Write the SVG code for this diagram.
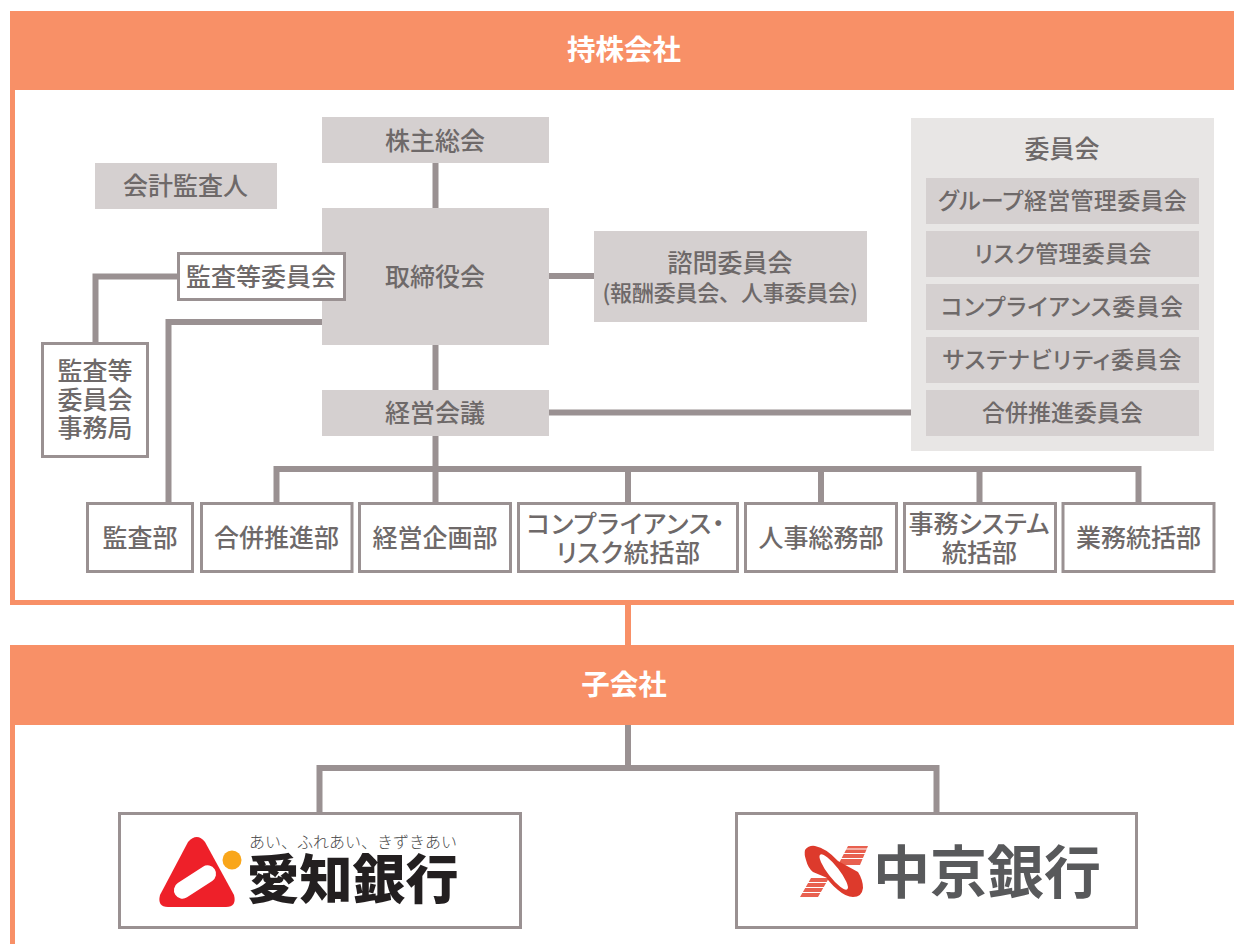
<svg xmlns="http://www.w3.org/2000/svg" width="1234" height="944" viewBox="0 0 1234 944">
<style>
text{font-family:"Noto Sans CJK JP","Noto Sans",sans-serif;font-weight:500;fill:#6e6969;text-anchor:middle;font-size:25px;font-feature-settings:"palt"}
.hd{fill:#fff;font-weight:700;font-size:28.500px}
.g{fill:#d5d0d0}
.b{fill:#fff;stroke:#9a9192;stroke-width:3}
.c{fill:none;stroke:#9a9192;stroke-width:6}
.o{fill:none;stroke:#f89067;stroke-width:5}
.s{font-size:22px;letter-spacing:-.2px;font-feature-settings:normal}
.m{font-size:23px}
</style>
<rect width="1234" height="944" fill="#fff"/>
<g id="frames">
<path class="o" d="M1234 602.500H12.500V90"/>
<path class="o" d="M12.500 725V944"/>
<rect x="10" y="11" width="1224" height="79" fill="#f89067"/>
<rect x="10" y="645" width="1224" height="80" fill="#f89067"/>
</g>
<g id="connectors">
<path class="c" d="M435.500 163V208M435.500 345V390M549 276H594M549 412.500H911M435.500 436V502"/>
<path class="c" d="M178 276.500H95.500V343"/>
<path class="c" d="M322 322H168.500V502"/>
<path class="c" d="M276.500 502V469H1138.500V502M628 469V502M821 469V502M979.500 469V502"/>
<path class="c" d="M628 725V768M319.500 813V768H936.500V813"/>
<path fill="none" stroke="#f89067" stroke-width="6" d="M628 605V645"/>
</g>
<g id="holding"><text class="hd" x="624" y="60">持株会社</text></g>
<g id="sub"><text class="hd" x="624" y="695">子会社</text></g>
<g id="soukai"><rect class="g" x="322" y="117" width="227" height="46"/><text x="435" y="150">株主総会</text></g>
<g id="kansanin"><rect class="g" x="95" y="163" width="182" height="46"/><text x="185.500" y="195">会計監査人</text></g>
<g id="torishimariyaku"><rect class="g" x="322" y="208" width="227" height="137"/><text x="435" y="286">取締役会</text></g>
<g id="kansatou"><rect class="b" x="178.500" y="253.500" width="166" height="46"/><text x="261" y="286">監査等委員会</text></g>
<g id="jimukyoku"><rect class="b" x="42.500" y="343.500" width="105" height="113"/><text x="95" y="380">監査等</text><text x="95" y="409">委員会</text><text x="95" y="437">事務局</text></g>
<g id="shimon"><rect class="g" x="594" y="231" width="273" height="91"/><text x="730" y="272">諮問委員会</text><text x="730" y="301" class="s">(報酬委員会、人事委員会)</text></g>
<g id="keiei"><rect class="g" x="322" y="390" width="227" height="46"/><text x="435" y="422">経営会議</text></g>
<g id="iinkai">
<rect x="911" y="118" width="303" height="333" fill="#e8e6e5"/>
<text x="1062" y="158">委員会</text>
<rect class="g" x="926" y="178" width="273" height="46"/><text class="m" x="1062.500" y="209" style="letter-spacing:.3px">グループ経営管理委員会</text>
<rect class="g" x="926" y="231" width="273" height="46"/><text class="m" x="1063" y="262" style="letter-spacing:.3px">リスク管理委員会</text>
<rect class="g" x="926" y="284" width="273" height="46"/><text class="m" x="1062.500" y="315" style="letter-spacing:.9px">コンプライアンス委員会</text>
<rect class="g" x="926" y="337" width="273" height="46"/><text class="m" x="1062.500" y="368" style="letter-spacing:.8px">サステナビリティ委員会</text>
<rect class="g" x="926" y="390" width="273" height="46"/><text class="m" x="1062.500" y="421">合併推進委員会</text>
</g>
<g id="d1"><rect class="b" x="87.500" y="503.500" width="105" height="68"/><text x="140" y="547">監査部</text></g>
<g id="d2"><rect class="b" x="201.500" y="503.500" width="150.500" height="68"/><text x="276.500" y="547">合併推進部</text></g>
<g id="d3"><rect class="b" x="359.500" y="503.500" width="151" height="68"/><text x="435" y="547">経営企画部</text></g>
<g id="d4"><rect class="b" x="518.500" y="503.500" width="219" height="68"/><text x="626" y="533" style="letter-spacing:.9px">コンプライアンス・</text><text x="628.500" y="562" style="letter-spacing:.7px">リスク統括部</text></g>
<g id="d5"><rect class="b" x="745.500" y="503.500" width="151" height="68"/><text x="821" y="547">人事総務部</text></g>
<g id="d6"><rect class="b" x="904.500" y="503.500" width="151" height="68"/><text x="979" y="533">事務システム</text><text x="979.500" y="562">統括部</text></g>
<g id="d7"><rect class="b" x="1063" y="503.500" width="151" height="68"/><text x="1138.500" y="547">業務統括部</text></g>
<g id="aichi">
<rect class="b" x="119.500" y="813.500" width="401" height="114"/>
<path fill="#ee2029" d="M188 842Q197 832 205 842L234 895Q237 907 226 907H168Q157 907 160 895Z"/>
<rect x="171.500" y="873.500" width="47" height="17" rx="8.500" transform="rotate(-33 195 882)" fill="#fff"/>
<circle cx="232" cy="860" r="9.500" fill="#f9a61a"/>
<text x="353" y="848" style="font-size:16px;font-weight:300;fill:#4a4a4a;font-feature-settings:normal">あい、ふれあい、きずきあい</text>
<text x="352.500" y="899" style="font-size:53px;font-weight:900;fill:#231f20;font-feature-settings:normal">愛知銀行</text>
</g>
<g id="chukyo">
<rect class="b" x="736.500" y="813.500" width="400" height="114"/>
<path fill="#e8604f" d="M848 846H868L860 865H838ZM811 878H829L818 897H800Z"/>
<path stroke="#fff" stroke-width="1.200" d="M835 849H872M835 853.500H872M830 858.500H868M805 882.500H835M800 887.500H830M795 892.500H825"/>
<path fill="#dd3a2c" d="M805 850Q809 845 815 846Q826 848 838 861L848 875L832 880L813 872Q808 868 806 860Q804 854 805 850ZM838 861L858 872Q863 880 863 888Q862 897 853 897Q846 897 838 890Q828 882 820 868Z"/>
<ellipse cx="833.700" cy="872" rx="5.500" ry="22" transform="rotate(-38 833.700 872)" fill="#fff"/>
<text x="987" y="893" style="font-size:57px;font-weight:700;fill:#58595b;font-feature-settings:normal">中京銀行</text>
</g>
</svg>
